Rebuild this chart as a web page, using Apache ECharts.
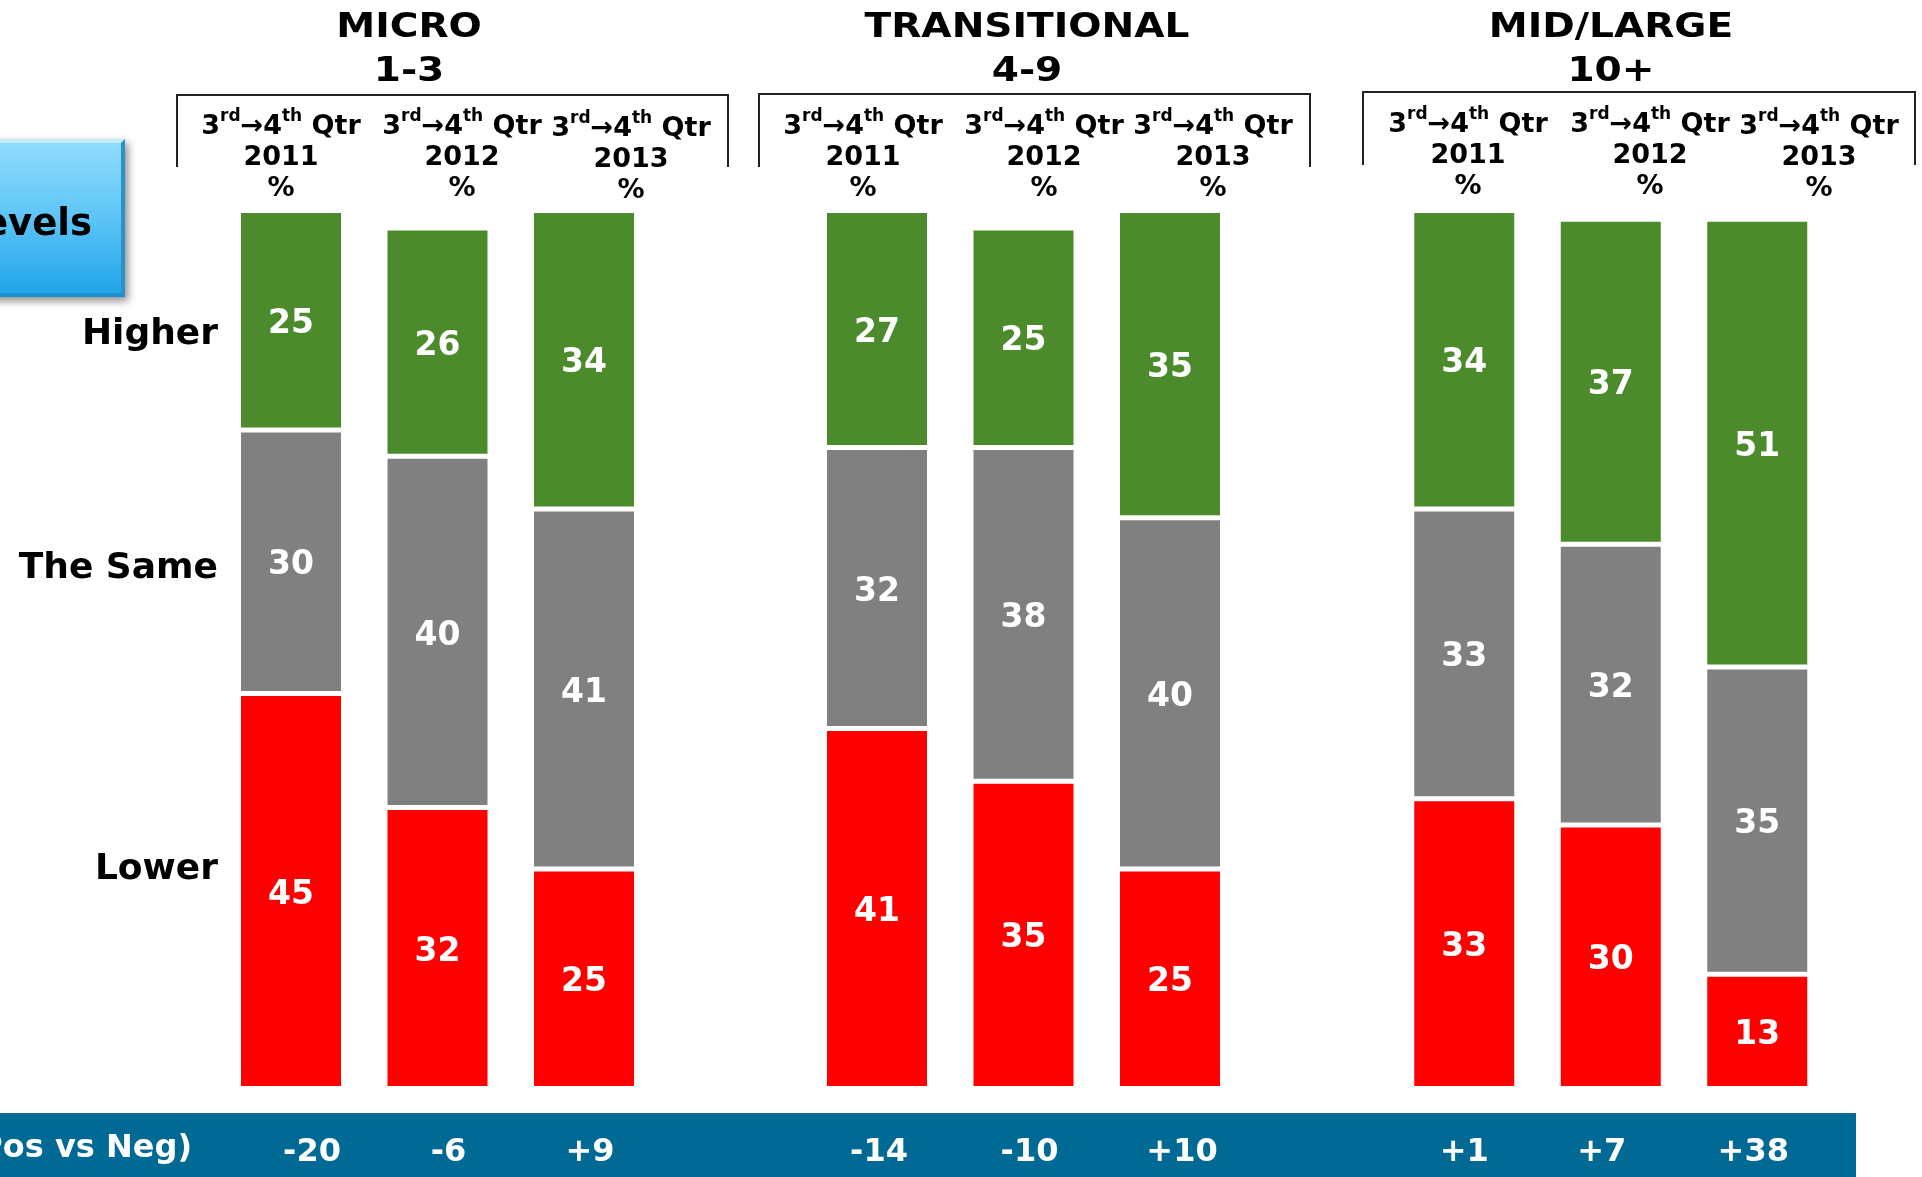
<!DOCTYPE html>
<html>
<head>
<meta charset="utf-8">
<script src="https://cdn.jsdelivr.net/npm/echarts@6/dist/echarts.min.js"></script>
<style>
  html, body { margin: 0; padding: 0; background: #ffffff; }
  #chart { width: 1922px; height: 1177px; }
</style>
</head>
<body>
<div id="chart"></div>
<script>
// Business size bands and the survey years shown for each
const bandNames = ['MICRO', 'TRANSITIONAL', 'MID/LARGE'];
const bandRanges = ['1-3', '4-9', '10+'];
const years = ['2011', '2012', '2013'];

// Share of respondents (%), three years per band: MICRO, TRANSITIONAL, MID/LARGE
const lowerPct  = [45, 32, 25,  41, 35, 25,  33, 30, 13];
const samePct   = [30, 40, 41,  32, 38, 40,  33, 32, 35];
const higherPct = [25, 26, 34,  27, 25, 35,  34, 37, 51];

// Net balance (positive minus negative) printed in the footer band
const netBalance = ['-20', '-6', '+9', '-14', '-10', '+10', '+1', '+7', '+38'];

const rowLabels = ['Higher', 'The Same', 'Lower'];
const boxTitle = 'Levels';
const footerTitle = 'Net (Pos vs Neg)';

const GREEN = '#4B8B2B', GREY = '#808080', RED = '#FF0000', BAND = '#006A94';
const FONT = '"DejaVu Sans", Verdana, sans-serif';

// ---- layout -------------------------------------------------------------
const slot = 146.5;
const gridLefts = [217.75, 803.75, 1391];
const gridTop = 210.5, gridBottom = 88.5;
// horizontal nudge (px) of each footer figure relative to its bar centre
const netShift = [21, 11, 6, 2, 6, 12, 0, -9, -4];

const chart = echarts.init(document.getElementById('chart'), null, { renderer: 'canvas' });

// one rich style per footer figure so each can carry its own nudge
const netRich = {};
netShift.forEach((s, k) => {
  netRich['o' + k] = {
    color: '#ffffff', fontFamily: FONT, fontWeight: 'bold', fontSize: 32,
    padding: s >= 0 ? [0, 0, 0, 2 * s] : [0, -2 * s, 0, 0]
  };
});

const grids = [], xAxes = [], yAxes = [], series = [];
bandNames.forEach((name, g) => {
  grids.push({ left: gridLefts[g], top: gridTop, bottom: gridBottom, width: slot * 3, containLabel: false });
  xAxes.push({
    type: 'category', gridIndex: g, data: years,
    axisLine: { show: false }, axisTick: { show: false }, splitLine: { show: false },
    axisLabel: {
      margin: 48, rich: netRich,
      formatter: (v, i) => '{o' + (g * 3 + i) + '|' + netBalance[g * 3 + i] + '}'
    }
  });
  yAxes.push({ type: 'value', gridIndex: g, min: 0, max: 100, show: false, splitLine: { show: false } });
  const parts = [
    { name: 'Lower', values: lowerPct, color: RED },
    { name: 'The Same', values: samePct, color: GREY },
    { name: 'Higher', values: higherPct, color: GREEN }
  ];
  parts.forEach(p => {
    series.push({
      type: 'bar', name: p.name, stack: 'band' + g,
      xAxisIndex: g, yAxisIndex: g,
      barWidth: 105,
      data: p.values.slice(g * 3, g * 3 + 3),
      itemStyle: { color: p.color, borderColor: '#ffffff', borderWidth: 2.5 },
      label: {
        show: true, position: 'inside', offset: [0, 4], color: '#ffffff',
        fontFamily: FONT, fontWeight: 'bold', fontSize: 33
      },
      emphasis: { disabled: true }
    });
  });
});

// ---- surrounding text and decoration ------------------------------------
const graphics = [];

// footer band behind the net-balance labels
graphics.push({
  type: 'rect', z: -10, shape: { x: 0, y: 1113, width: 1856, height: 64 },
  style: { fill: BAND }
});
graphics.push({
  type: 'text', x: 192, y: 1149,
  style: { text: footerTitle, fill: '#ffffff', font: 'bold 32px ' + FONT, align: 'right', verticalAlign: 'middle' }
});

// bevelled blue box on the left
graphics.push({
  type: 'rect', shape: { x: -30, y: 139, width: 155, height: 158 },
  style: {
    fill: new echarts.graphic.LinearGradient(0, 0, 0, 1, [
      { offset: 0, color: '#93ddfd' }, { offset: 0.5, color: '#5cc4f6' }, { offset: 1, color: '#1ea3e9' }
    ]),
    shadowBlur: 8, shadowColor: 'rgba(0,0,0,0.45)', shadowOffsetX: 3, shadowOffsetY: 4
  }
});
graphics.push({
  type: 'polygon', shape: { points: [[-30, 139], [125, 139], [121, 143], [-30, 143]] },
  style: { fill: '#c2eeff' }
});
graphics.push({
  type: 'polygon', shape: { points: [[125, 139], [125, 297], [121, 293], [121, 143]] },
  style: { fill: '#2a92c8' }
});
graphics.push({
  type: 'polygon', shape: { points: [[-30, 297], [125, 297], [121, 293], [-30, 293]] },
  style: { fill: '#1a8fcd' }
});
graphics.push({
  type: 'text', x: 92, y: 225,
  style: { text: boxTitle, fill: '#000000', font: 'bold 37px ' + FONT, align: 'right', verticalAlign: 'middle' }
});

// row captions
const rowY = [335, 569, 870];
rowLabels.forEach((t, i) => {
  graphics.push({
    type: 'text', x: 218, y: rowY[i],
    style: { text: t, fill: '#000000', font: 'bold 36px ' + FONT, align: 'right', verticalAlign: 'middle' }
  });
});

// band titles
const titleX = [409, 1027, 1611];
bandNames.forEach((n, g) => {
  graphics.push({
    type: 'text', x: titleX[g], y: 28, scaleX: 1.15,
    style: { text: n, fill: '#000000', font: 'bold 34px ' + FONT, align: 'center', verticalAlign: 'middle' }
  });
  graphics.push({
    type: 'text', x: titleX[g], y: 72, scaleX: 1.15,
    style: { text: bandRanges[g], fill: '#000000', font: 'bold 34px ' + FONT, align: 'center', verticalAlign: 'middle' }
  });
});

// brackets over each band's column headers
const brackets = [[177, 728, 95, 167], [759, 1310, 94, 167], [1363, 1915, 92, 165]];
brackets.forEach(b => {
  graphics.push({
    type: 'polyline',
    shape: { points: [[b[0], b[3]], [b[0], b[2]], [b[1], b[2]], [b[1], b[3]]] },
    style: { stroke: '#222222', lineWidth: 2, fill: null }
  });
});

// column headers: quarter change, year and unit
const headerX = [281, 462, 631, 863, 1044, 1213, 1468, 1650, 1819];
const headerDy = [0, 0, 2, 0, 0, 0, -2, -2, 0];
const headRich = {
  n: { fontSize: 27, fontWeight: 'bold', fontFamily: FONT, fill: '#000', lineHeight: 32, verticalAlign: 'bottom' },
  s: { fontSize: 17, fontWeight: 'bold', fontFamily: FONT, fill: '#000', lineHeight: 19, verticalAlign: 'top' }
};
headerX.forEach((x, i) => {
  const dy = headerDy[i];
  graphics.push({
    type: 'text', x: x, y: 124 + dy,
    style: { text: '{n|3}{s|rd}{n|→4}{s|th}{n| Qtr}', rich: headRich, align: 'center', verticalAlign: 'middle' }
  });
  graphics.push({
    type: 'text', x: x, y: 158 + dy,
    style: { text: years[i % 3], fill: '#000', font: 'bold 27px ' + FONT, align: 'center', verticalAlign: 'middle' }
  });
  graphics.push({
    type: 'text', x: x, y: 189 + dy,
    style: { text: '%', fill: '#000', font: 'bold 27px ' + FONT, align: 'center', verticalAlign: 'middle' }
  });
});

chart.setOption({
  animation: false,
  backgroundColor: '#ffffff',
  grid: grids,
  xAxis: xAxes,
  yAxis: yAxes,
  series: series,
  graphic: graphics
});
</script>
</body>
</html>
